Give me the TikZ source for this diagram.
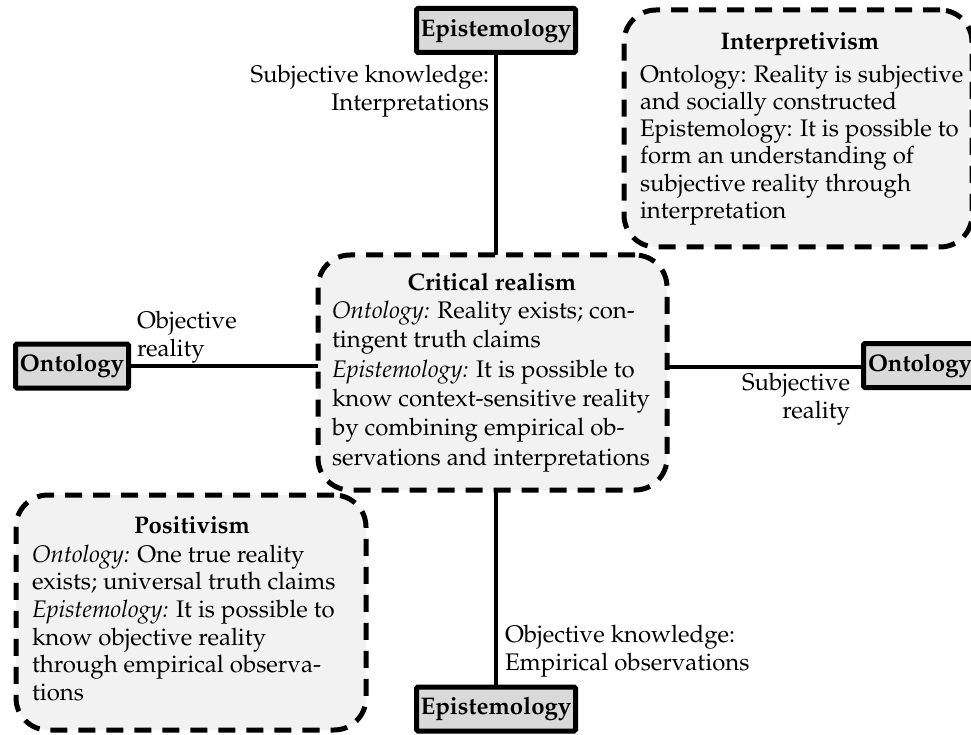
\documentclass[tikz,border=0pt]{standalone}
\usepackage[T1]{fontenc}
\usepackage{mathpazo}
\usetikzlibrary{backgrounds}
\definecolor{axisfill}{HTML}{D9D9D9}
\definecolor{panelfill}{HTML}{F1F2F1}
\begin{document}
\begin{tikzpicture}[x=1pt,y=-1pt,
  every node/.style={inner sep=0pt, outer sep=0pt},
  txt/.style={font=\fontsize{24}{28}\selectfont},
  axisbox/.style={draw, line width=5pt, fill=axisfill, rounded corners=1.5pt,
    minimum height=44pt, font=\fontsize{24}{28}\selectfont\bfseries},
  panel/.style={draw, line width=5pt, dash pattern=on 17pt off 11pt,
    fill=panelfill, rounded corners=32pt},
  link/.style={line width=4.5pt},
  head/.style={font=\fontsize{24}{28}\selectfont\bfseries, anchor=base},
]
\useasboundingbox (0,0) rectangle (971,735);

% axis end boxes
\node[axisbox, minimum width=159pt] (epiTop) at (496,30.5) {Epistemology};
\node[axisbox, minimum width=159pt] (epiBot) at (496,709) {Epistemology};
\node[axisbox, minimum width=113pt] (ontL) at (72,366) {Ontology};
\node[axisbox, minimum width=113pt] (ontR) at (920,365.5) {Ontology};

% paradigm panels
\node[panel, minimum width=348pt, minimum height=237pt] (interp) at (798,128.5) {};
\node[panel, minimum width=349pt, minimum height=235pt] (crit) at (492.5,372.5) {};
\node[panel, minimum width=350pt, minimum height=235pt] (posit) at (191,612.5) {};

% panel texts
\node[head] (interpHead) at (800,50) {Interpretivism};
\node[anchor=north west, align=left, font=\fontsize{24}{27.2}\selectfont] (interpBody) at (640,65)
  {Ontology: Reality is subjective\\
   and socially constructed\\
   Epistemology: It is possible to\\
   form an understanding of\\
   subjective reality through\\
   interpretation};

\node[head] (critHead) at (492,290) {Critical realism};
\node[anchor=north west, align=left, font=\fontsize{24}{29.4}\selectfont] (critBody) at (332,301)
  {\textit{Ontology:} Reality exists; con-\\
   tingent truth claims\\
   \textit{Epistemology:} It is possible to\\
   know context-sensitive reality\\
   by combining empirical ob-\\
   servations and interpretations};

\node[head] (positHead) at (192,533) {Positivism};
\node[anchor=north west, align=left, font=\fontsize{24}{27.6}\selectfont] (positBody) at (32,545)
  {\textit{Ontology:} One true reality\\
   exists; universal truth claims\\
   \textit{Epistemology:} It is possible to\\
   know objective reality\\
   through empirical observa-\\
   tions};

% axis labels
\node[txt, anchor=north east, align=right] (lblTop) at (489,65)
  {Subjective knowledge:\\ Interpretations};
\node[txt, anchor=north west, align=left] (lblBot) at (505,625)
  {Objective knowledge:\\ Empirical observations};
\node[txt, anchor=north west, align=left] (lblLeft) at (137,311)
  {Objective\\ reality};
\node[txt, anchor=north east, align=right] (lblRight) at (850,373)
  {Subjective\\ reality};

% axes
\begin{scope}[on background layer]
  \draw[link] (epiTop.south) -- (epiTop.south |- crit.north);
  \draw[link] (epiBot.north |- crit.south) -- (epiBot.north);
  \draw[link] (ontL.east) -- (ontL.east -| crit.west);
  \draw[link] (ontR.west |- 0,367) -- (crit.east |- 0,367);
\end{scope}
\end{tikzpicture}
\end{document}
